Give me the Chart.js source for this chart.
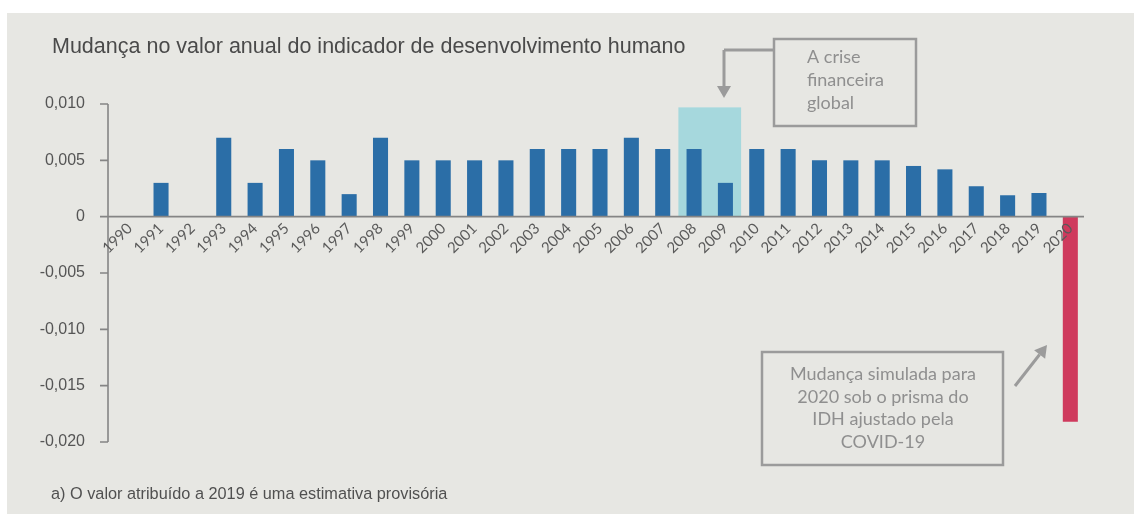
<!DOCTYPE html>
<html>
<head>
<meta charset="utf-8">
<script src="https://cdn.jsdelivr.net/npm/chart.js@4.4.1/dist/chart.umd.min.js"></script>
<style>
    body { margin: 0; background: #fff; }
    #wrap { width: 1134px; height: 514px; }
</style>
</head>
<body>
<div id="wrap"><canvas id="chart_idh"></canvas></div>
<script>
// dados
var anos = ["1990", "1991", "1992", "1993", "1994", "1995", "1996", "1997", "1998", "1999",
    "2000", "2001", "2002", "2003", "2004", "2005", "2006", "2007", "2008", "2009",
    "2010", "2011", "2012", "2013", "2014", "2015", "2016", "2017", "2018", "2019", "2020"];
var variacao_idh = [0, 0.003, 0, 0.007, 0.003, 0.006, 0.005, 0.002, 0.007, 0.005,
    0.005, 0.005, 0.005, 0.006, 0.006, 0.006, 0.007, 0.006, 0.006, 0.003,
    0.006, 0.006, 0.005, 0.005, 0.005, 0.0045, 0.0042, 0.0027, 0.0019, 0.0021, -0.0182];
var ticks_y = [-0.020, -0.015, -0.010, -0.005, 0, 0.005, 0.010];
var crise_anos = ["2008", "2009"];
var crise_topo = 0.0097;

var titulo = "Mudança no valor anual do indicador de desenvolvimento humano";
var nota = "a) O valor atribuído a 2019 é uma estimativa provisória";
var nota_crise = ["A crise", "financeira", "global"];
var nota_covid = ["Mudança simulada para", "2020 sob o prisma do", "IDH ajustado pela", "COVID-19"];

var azul = "#2b6ea7";
var vermelho = "#cf3a5d";
var cinza_eixo = "#858585";
var cinza_nota = "#8f8f8f";

function seta(ctx, x1, y1, x2, y2) {
    var ang = Math.atan2(y2 - y1, x2 - x1);
    var len = 12, w = 7;
    var bx = x2 - Math.cos(ang) * len, by = y2 - Math.sin(ang) * len;
    ctx.beginPath();
    ctx.moveTo(x1, y1);
    ctx.lineTo(bx, by);
    ctx.stroke();
    ctx.beginPath();
    ctx.moveTo(x2, y2);
    ctx.lineTo(bx + Math.sin(ang) * w, by - Math.cos(ang) * w);
    ctx.lineTo(bx - Math.sin(ang) * w, by + Math.cos(ang) * w);
    ctx.closePath();
    ctx.fill();
}

var desenho = {
    id: "desenho",
    beforeDraw: function (chart) {
        var ctx = chart.ctx;
        ctx.save();
        ctx.fillStyle = "#ffffff";
        ctx.fillRect(0, 0, chart.width, chart.height);
        ctx.fillStyle = "#e7e7e3";
        ctx.fillRect(7, 13, chart.width - 7, chart.height - 13);
        ctx.restore();
    },
    beforeDatasetsDraw: function (chart) {
        // faixa da crise financeira
        var ctx = chart.ctx, xs = chart.scales.x, ys = chart.scales.y;
        var w = xs.width / anos.length;
        var x1 = xs.getPixelForValue(anos.indexOf(crise_anos[0])) - w / 2;
        var x2 = xs.getPixelForValue(anos.indexOf(crise_anos[1])) + w / 2;
        var y1 = ys.getPixelForValue(crise_topo), y2 = ys.getPixelForValue(0);
        ctx.save();
        ctx.fillStyle = "#a6d8dd";
        ctx.fillRect(x1, y1, x2 - x1, y2 - y1);
        ctx.restore();
    },
    afterDatasetsDraw: function (chart) {
        var ctx = chart.ctx, xs = chart.scales.x, ys = chart.scales.y;
        var ax = chart.chartArea.left - 6;
        ctx.save();
        ctx.strokeStyle = cinza_eixo;
        ctx.lineWidth = 1.6;
        ctx.beginPath();
        ctx.moveTo(ax, ys.getPixelForValue(ticks_y[ticks_y.length - 1]));
        ctx.lineTo(ax, ys.getPixelForValue(ticks_y[0]));
        ticks_y.forEach(function (v) {
            var y = ys.getPixelForValue(v);
            ctx.moveTo(ax - 8, y);
            ctx.lineTo(ax, y);
        });
        var y0 = ys.getPixelForValue(0);
        ctx.moveTo(ax, y0);
        ctx.lineTo(chart.chartArea.right - 2, y0);
        ctx.stroke();
        ctx.restore();
    },
    afterDraw: function (chart) {
        var ctx = chart.ctx;
        ctx.save();
        ctx.fillStyle = "#4a4a4a";
        ctx.textBaseline = "alphabetic";
        ctx.font = "21.5px 'Liberation Sans', Arial, sans-serif";
        ctx.fillText(titulo, 52, 53);
        ctx.fillStyle = "#505050";
        ctx.font = "16.3px 'Liberation Sans', Arial, sans-serif";
        ctx.fillText(nota, 51, 499);

        ctx.strokeStyle = "#9b9b9b";
        ctx.fillStyle = "#9b9b9b";
        ctx.lineWidth = 2.5;
        ctx.strokeRect(774, 39, 142, 87);
        ctx.strokeRect(762, 352, 241, 113);

        ctx.lineWidth = 3;
        ctx.beginPath();
        ctx.moveTo(774, 50);
        ctx.lineTo(724, 50);
        ctx.stroke();
        seta(ctx, 724, 50, 724, 98);
        seta(ctx, 1015, 386, 1047, 345);

        ctx.fillStyle = cinza_nota;
        ctx.font = "18px Lato, sans-serif";
        ctx.textAlign = "left";
        nota_crise.forEach(function (t, i) {
            ctx.fillText(t, 807, 63 + i * 23);
        });
        ctx.textAlign = "center";
        nota_covid.forEach(function (t, i) {
            ctx.fillText(t, 883, 380 + i * 22.5);
        });
        ctx.restore();
    }
};

var ctx_idh = document.getElementById("chart_idh");
var chart_idh = new Chart(ctx_idh, {
    type: "bar",
    data: {
        labels: anos,
        datasets: [
            {
                label: "Mudança no IDH",
                data: variacao_idh,
                backgroundColor: function (c) {
                    return c.dataIndex === anos.length - 1 ? vermelho : azul;
                },
                borderWidth: 0,
                barPercentage: 0.48,
                categoryPercentage: 1,
            },
        ],
    },
    options: {
        responsive: true,
        maintainAspectRatio: false,
        animation: false,
        layout: {
            padding: { top: 104, bottom: 72, left: 0, right: 48 },
        },
        plugins: {
            legend: { display: false },
            tooltip: { enabled: false },
        },
        scales: {
            x: {
                position: { y: 0 },
                grid: { display: false, drawTicks: false },
                border: { display: false },
                ticks: {
                    z: 1,
                    autoSkip: false,
                    minRotation: 45,
                    maxRotation: 45,
                    padding: 3,
                    color: "#5a5a5a",
                    font: { family: "Lato", size: 15 },
                },
            },
            y: {
                min: -0.02,
                max: 0.01,
                grid: { display: false, drawTicks: false },
                border: { display: false },
                afterFit: function (scale) {
                    scale.width = 114;
                },
                afterBuildTicks: function (scale) {
                    scale.ticks = ticks_y.map(function (v) { return { value: v }; });
                },
                ticks: {
                    padding: 29,
                    color: "#555555",
                    font: { family: "'Liberation Sans', Arial", size: 16 },
                    callback: function (v) {
                        if (Math.abs(v) < 1e-9) return "0";
                        return v.toFixed(3).replace(".", ",");
                    },
                },
            },
        },
    },
    plugins: [desenho],
});
</script>
</body>
</html>
